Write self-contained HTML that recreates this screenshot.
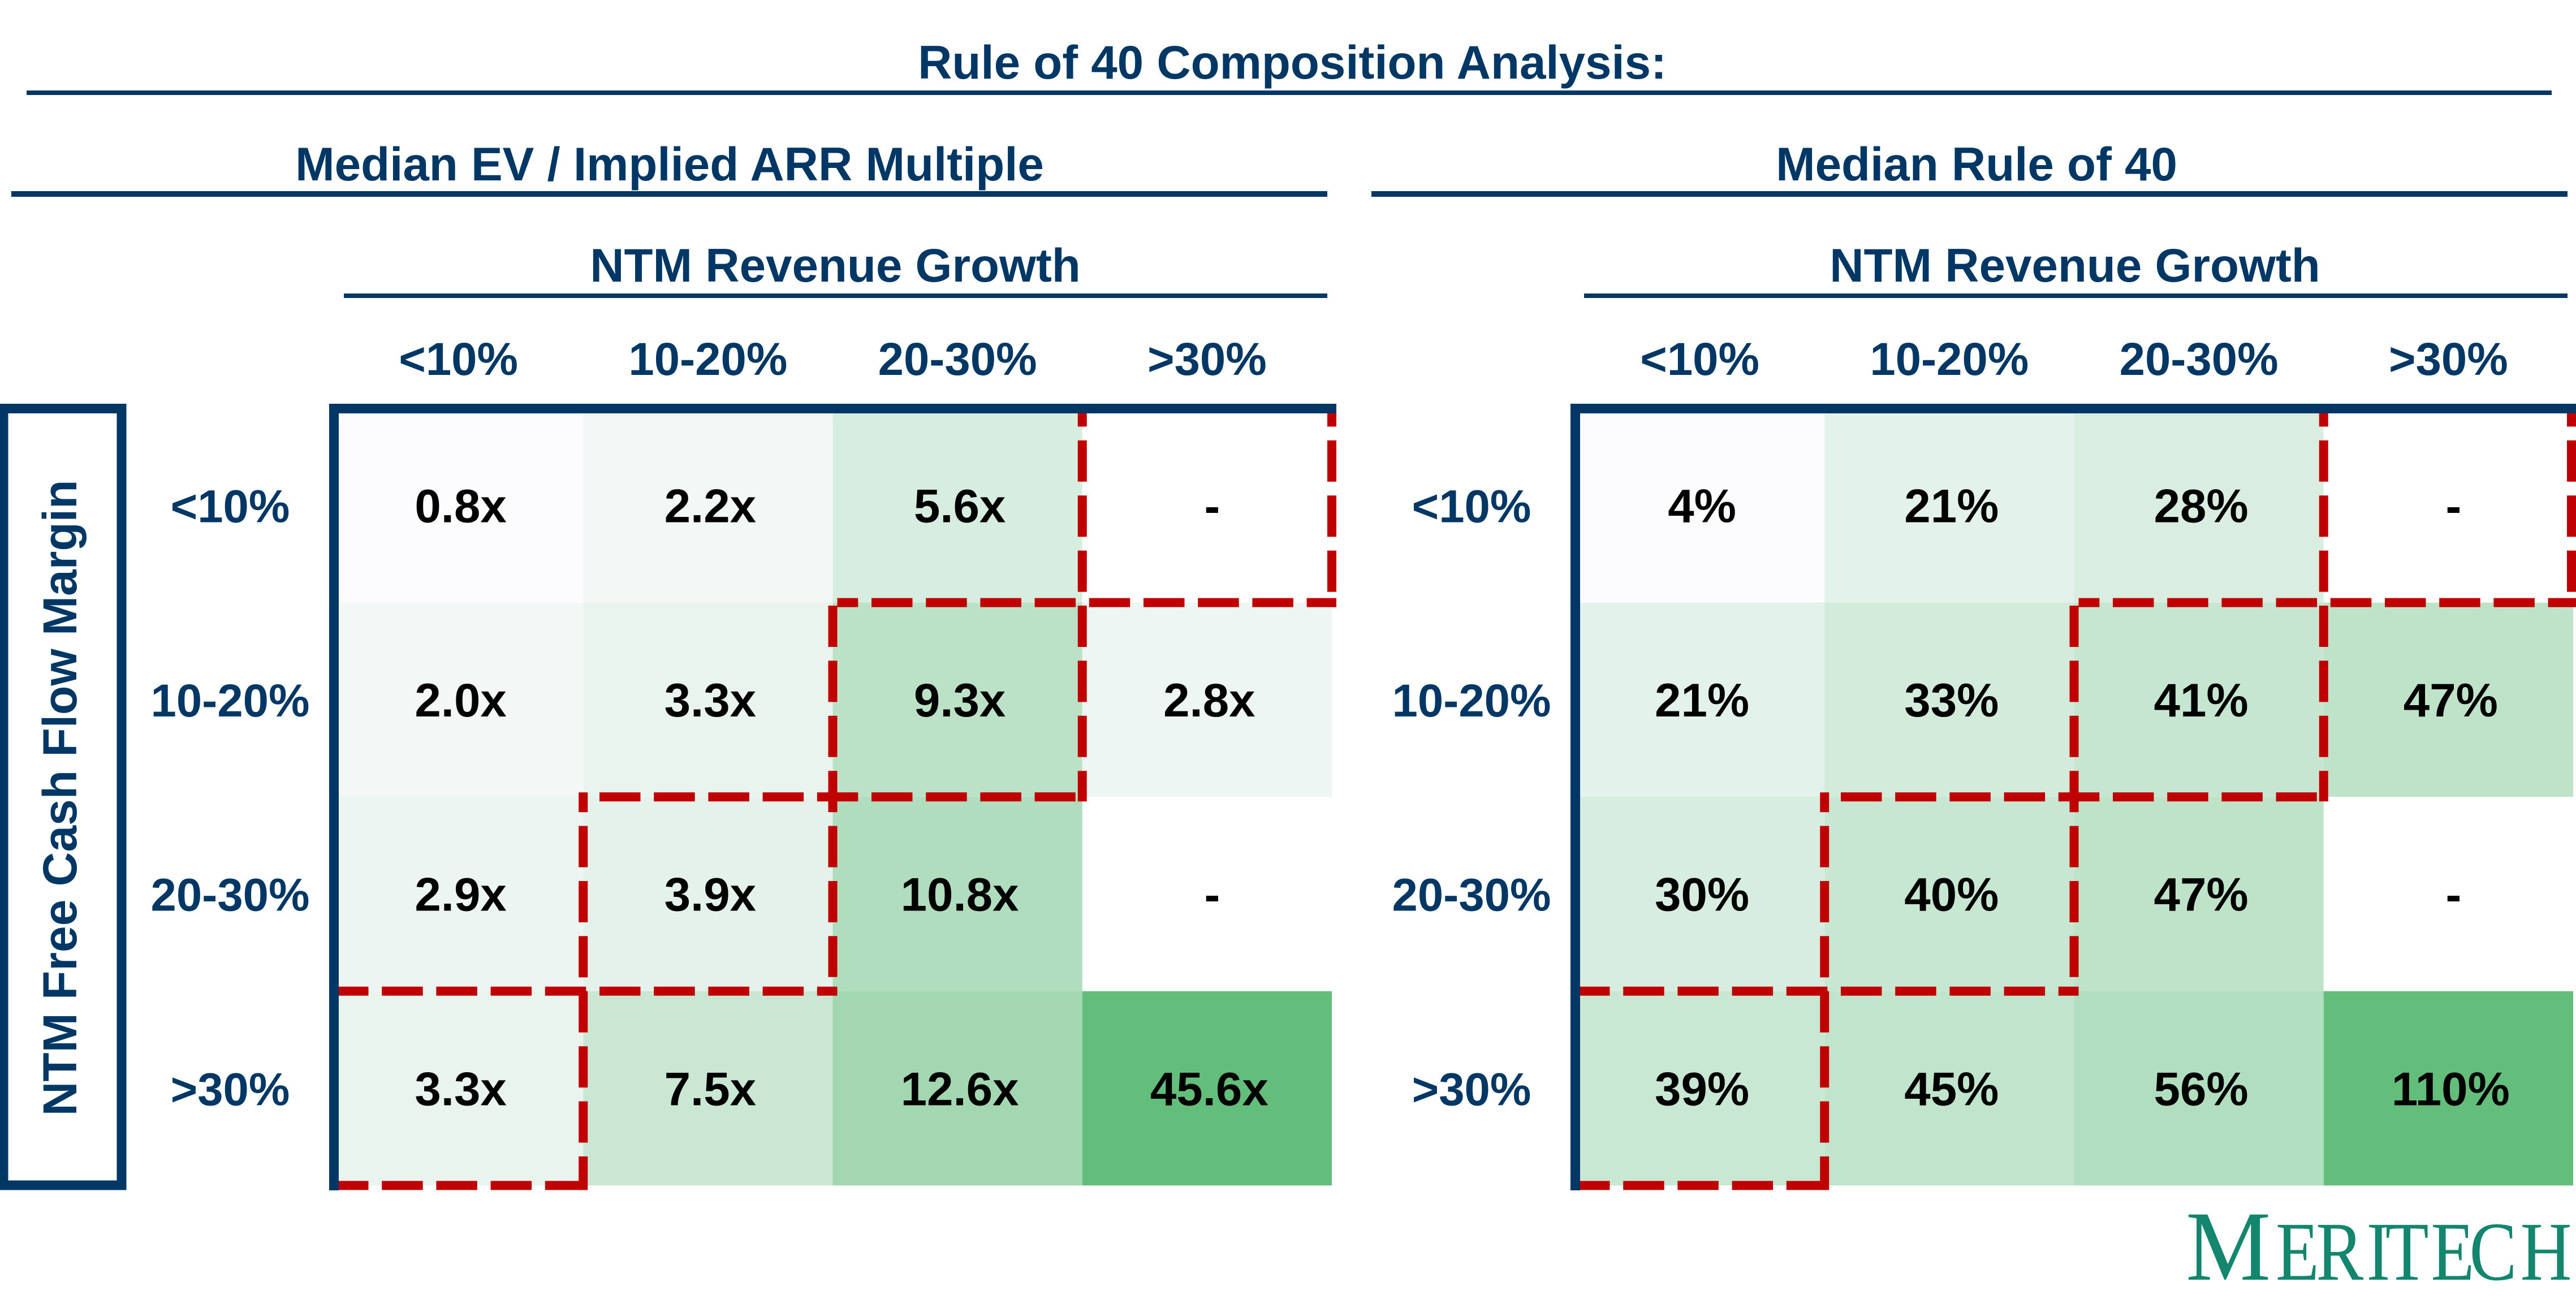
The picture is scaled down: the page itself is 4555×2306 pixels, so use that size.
<!DOCTYPE html>
<html lang="en">
<head>
<meta charset="utf-8">
<title>Rule of 40 Composition Analysis</title>
<style>
html,body{margin:0;padding:0;background:#fff;width:4555px;height:2306px;overflow:hidden}
svg{display:block;font-family:"Liberation Sans",Arial,sans-serif}
.navy-text{font-weight:700;font-size:83.5px;fill:#003764;text-anchor:middle}
.tick-text{font-weight:700;font-size:81.5px;fill:#003764;text-anchor:middle}
.value-text{font-weight:700;font-size:83.5px;fill:#000;text-anchor:middle}
</style>
</head>
<body>
<svg id="chart" xmlns="http://www.w3.org/2000/svg" width="4555" height="2306" viewBox="0 0 4555 2306">
  <rect x="0" y="0" width="4555" height="2306" fill="#ffffff"/>
  <text class="navy-text" x="2285" y="139">Rule of 40 Composition Analysis:</text>
  <rect x="47" y="160" width="4465" height="8" fill="#003764"/>
  <text class="navy-text" x="1184" y="319">Median EV / Implied ARR Multiple</text>
  <rect x="20" y="338" width="2327" height="10" fill="#003764"/>
  <text class="navy-text" x="3495" y="319">Median Rule of 40</text>
  <rect x="2425" y="338" width="2115" height="10" fill="#003764"/>
  <text class="navy-text" x="1477" y="498">NTM Revenue Growth</text>
  <rect x="608" y="519" width="1739" height="8" fill="#003764"/>
  <text class="navy-text" x="3669" y="498">NTM Revenue Growth</text>
  <rect x="2801" y="519" width="1739" height="8" fill="#003764"/>
  <rect x="6" y="722.5" width="209" height="1373.5" fill="none" stroke="#003764" stroke-width="17"/>
  <text class="navy-text" style="font-size:84px" transform="translate(135,1411) rotate(-90)">NTM Free Cash Flow Margin</text>
  <g id="panels"></g>
  <g font-family="'Liberation Serif',serif" fill="#14866D">
    <text transform="translate(3865,2263) scale(0.96,1)" font-size="176">M</text>
    <text transform="translate(4024,2263) scale(0.85,1)" x="0 84 189 228 323 403 509" y="0" font-size="148">ERITECH</text>
  </g>
</svg>
<script>
const growthLabels = ['<10%', '10-20%', '20-30%', '>30%'];
const marginLabels = ['<10%', '10-20%', '20-30%', '>30%'];
const evMultipleRow1 = [0.8, 2.2, 5.6, null];
const evMultipleRow2 = [2.0, 3.3, 9.3, 2.8];
const evMultipleRow3 = [2.9, 3.9, 10.8, null];
const evMultipleRow4 = [3.3, 7.5, 12.6, 45.6];
const ruleOf40Row1 = [4, 21, 28, null];
const ruleOf40Row2 = [21, 33, 41, 47];
const ruleOf40Row3 = [30, 40, 47, null];
const ruleOf40Row4 = [39, 45, 56, 110];
const evColorDomain = [0.8, 20.8];
const ruleColorDomain = [4, 110];

const SVGNS = 'http://www.w3.org/2000/svg';
const panelsLayer = document.getElementById('panels');

function make(tag, attrs, parent) {
  const node = document.createElementNS(SVGNS, tag);
  for (const key in attrs) node.setAttribute(key, attrs[key]);
  parent.appendChild(node);
  return node;
}
function colEdge(i) { return 590 + i * 441.25; }
function rowEdge(j) { return 722 + j * 343.6; }
function colCenter(i) { return colEdge(i) + 220.6; }
function rowBaseline(j) { return rowEdge(j) + 201.5; }
function mod(a, b) { return ((a % b) + b) % b; }
function shade(value, domain) {
  const t = Math.max(0, Math.min(1, (value - domain[0]) / (domain[1] - domain[0])));
  const r = Math.round(252 + (99 - 252) * t);
  const g = Math.round(252 + (190 - 252) * t);
  const b = Math.round(255 + (123 - 255) * t);
  return 'rgb(' + r + ',' + g + ',' + b + ')';
}
function dashedH(parent, y, x1, x2) {
  const line = make('line', {x1: x1, y1: y, x2: x2, y2: y, stroke: '#C00000', 'stroke-width': 16,
    'stroke-dasharray': '72.5 23.7', 'stroke-dashoffset': mod(x1 - 1060, 96.2)}, parent);
  
  
}
function dashedV(parent, x, y1, y2) {
  const line = make('line', {x1: x, y1: y1, x2: x, y2: y2, stroke: '#C00000', 'stroke-width': 16,
    'stroke-dasharray': '73 24.4', 'stroke-dashoffset': mod(y1 - 1071, 97.4)}, parent);
  
  
}
function drawPanel(dx, rows, domain, format, right) {
  const g = make('g', {transform: 'translate(' + dx + ',0)'}, panelsLayer);
  
  
  const edgeShift = right ? -3 : 0;

  growthLabels.forEach(function (label, i) {
    const t = make('text', {x: colCenter(i), y: 663, class: 'tick-text'}, g);
    t.textContent = label;
    
    
  });
  marginLabels.forEach(function (label, j) {
    const t = make('text', {x: 407, y: rowBaseline(j), class: 'tick-text'}, g);
    t.textContent = label;
    
    
  });

  rows.forEach(function (row, j) {
    row.forEach(function (value, i) {
      if (value !== null) {
        const cell = make('rect', {x: colEdge(i), y: rowEdge(j), width: colEdge(i + 1) - colEdge(i),
          height: rowEdge(j + 1) - rowEdge(j), fill: shade(value, domain)}, g);
        
        
      }
    });
  });
  rows.forEach(function (row, j) {
    row.forEach(function (value, i) {
      const t = make('text', {x: colCenter(i) + (value === null ? 9 : 4), y: rowBaseline(j), class: 'value-text'}, g);
      t.textContent = value === null ? '-' : format(value);
      
      
    });
  });

  dashedH(g, rowEdge(1), colEdge(2) + 8, colEdge(4) + 8 + edgeShift);
  dashedH(g, rowEdge(2), colEdge(1) + 28, colEdge(3) - 12);
  dashedH(g, rowEdge(3), colEdge(0) + 9, colEdge(2) + 8);
  dashedH(g, rowEdge(4), colEdge(0) + 9, colEdge(1) + 8);
  dashedV(g, colEdge(3), 731, rowEdge(2) + 8);
  dashedV(g, colEdge(4) + edgeShift, 731, rowEdge(1) + 8);
  dashedV(g, colEdge(2), rowEdge(1) + 5, rowEdge(3) - 25);
  dashedV(g, colEdge(1), rowEdge(2) - 8, rowEdge(4) + 8);

  const topBar = make('rect', {x: 582, y: 714, width: (right ? 4555 - dx : 2363) - 582, height: 17, fill: '#003764'}, g);
  
  
  const leftBar = make('rect', {x: 582, y: 714, width: 17, height: 1391, fill: '#003764'}, g);
  
  
}

drawPanel(0, [evMultipleRow1, evMultipleRow2, evMultipleRow3, evMultipleRow4], evColorDomain,
  function (v) { return v.toFixed(1) + 'x'; }, false);
drawPanel(2195, [ruleOf40Row1, ruleOf40Row2, ruleOf40Row3, ruleOf40Row4], ruleColorDomain,
  function (v) { return v + '%'; }, true);
</script>
</body>
</html>
